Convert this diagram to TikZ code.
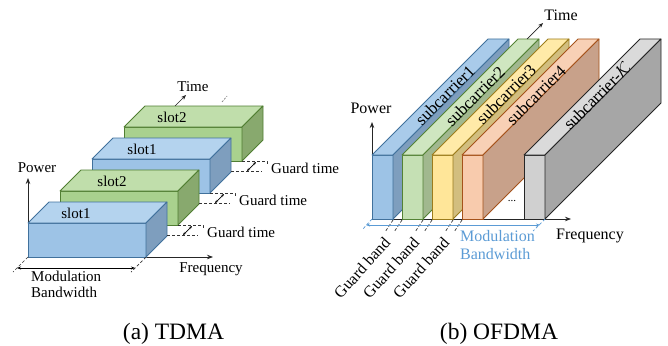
\documentclass[tikz,border=0pt]{standalone}
\usepackage{fontspec}
\setmainfont{Liberation Serif}
\usetikzlibrary{arrows.meta}

% palettes: front / top / side / outline
\definecolor{tbF}{HTML}{9DC3E6}\definecolor{tbT}{HTML}{B4D3EE}\definecolor{tbS}{HTML}{7E9EBE}\definecolor{tbL}{HTML}{41719C}
\definecolor{tgF}{HTML}{A9D18E}\definecolor{tgT}{HTML}{C0DEAB}\definecolor{tgS}{HTML}{88A96E}\definecolor{tgL}{HTML}{507E32}
\definecolor{obF}{HTML}{9DC3E6}\definecolor{obT}{HTML}{A9CBEA}\definecolor{obS}{HTML}{7E9EBE}\definecolor{obL}{HTML}{41719C}
\definecolor{ogF}{HTML}{C5E0B4}\definecolor{ogT}{HTML}{CFE6C0}\definecolor{ogS}{HTML}{A1B88F}\definecolor{ogL}{HTML}{548235}
\definecolor{oyF}{HTML}{FFE699}\definecolor{oyT}{HTML}{FFEAA8}\definecolor{oyS}{HTML}{D2BE7F}\definecolor{oyL}{HTML}{9C7C1C}
\definecolor{ooF}{HTML}{F8CBAD}\definecolor{ooT}{HTML}{F8D0B5}\definecolor{ooS}{HTML}{C8A18A}\definecolor{ooL}{HTML}{A5521A}
\definecolor{okF}{HTML}{D0D0D0}\definecolor{okT}{HTML}{DADADA}\definecolor{okS}{HTML}{A6A6A6}\definecolor{okL}{HTML}{262626}
\definecolor{bwBlue}{HTML}{5B9BD5}

\tikzset{
  lbl/.style={font=\fontsize{15}{15.5}\selectfont, inner sep=0pt},
  lblb/.style={font=\fontsize{16}{18}\selectfont, inner sep=0pt},
  lblc/.style={font=\fontsize{17}{18}\selectfont, inner sep=0pt},
  captext/.style={font=\fontsize{23.5}{25}\selectfont, inner sep=0pt},
  axis/.style={draw=black!85, line width=0.8pt, -{Stealth[length=6pt,width=4.5pt]}},
  gdash/.style={draw=black!80, dashed, dash pattern=on 3pt off 2pt, line width=0.7pt},
  garrow/.style={draw=black, line width=0.7pt, {Stealth[length=3pt,width=2.5pt]}-{Stealth[length=3pt,width=2.5pt]}},
  face/.style={line width=0.8pt, line join=round},
  cfront/.style={face, draw=#1L, fill=#1F},
  ctop/.style={face, draw=#1L, fill=#1T},
  cside/.style={face, draw=#1L, fill=#1S},
}

% cuboid: front top-left (x,y), width, height, depth, palette
\newcommand\cuboid[6]{%
  \filldraw[cfront=#6] (#1,#2) rectangle ({#1+#3},{#2+#4});
  \filldraw[ctop=#6] (#1,#2) -- ({#1+#3},#2) -- ({#1+#3+#5},{#2-#5}) -- ({#1+#5},{#2-#5}) -- cycle;
  \filldraw[cside=#6] ({#1+#3},#2) -- ({#1+#3+#5},{#2-#5}) -- ({#1+#3+#5},{#2+#4-#5}) -- ({#1+#3},{#2+#4}) -- cycle;
}

% guard-time marker below the front-bottom-right corner (cx,cy) of a slot
\newcommand\guardmark[3]{%
  \draw[gdash] (#1,#2) -- ({#1+25},#2) -- ({#1+25},{#2+3});
  \draw[gdash] ({#1-11},{#2+10}) -- ({#1+20},{#2+10});
  \draw[garrow] ({#1+5},{#2+10}) -- ({#1+14},{#2+1});
  \node[lbl, anchor=west] (#3) at ({#1+29},{#2+7}) {Guard time};
}

\begin{document}
\begin{tikzpicture}[x=1pt,y=-1pt]
\useasboundingbox (0,0) rectangle (668,345);

% ---------------- TDMA ----------------
\coordinate (tO) at (28,257);
\coordinate (tP) at (28,178);
\coordinate (tF) at (213,257);
\draw[axis] (tO) -- (tP);
\draw[axis] (tO) -- (tF);

\cuboid{124}{127}{118}{34}{21}{tg}
\cuboid{92}{159}{118}{34}{21}{tb}
\cuboid{60}{191}{118}{34}{21}{tg}
\cuboid{28}{223}{118}{34}{21}{tb}

\node[lbl] (s4) at (172,117) {slot2};
\node[lbl] (s3) at (142,149) {slot1};
\node[lbl] (s2) at (112,181) {slot2};
\node[lbl] (s1) at (76,213) {slot1};

\guardmark{178}{225}{g1}
\guardmark{210}{193}{g2}
\guardmark{242}{161}{g3}

% time direction
\coordinate (tT0) at (175,106);
\coordinate (tT1) at (186,95);
\draw[axis, line width=0.7pt, -{Stealth[length=5pt,width=4pt]}] (tT0) -- (tT1);
\node[lbl] (tTime) at (193,87) {Time};
\draw[gdash, draw=black!50, dash pattern=on 2pt off 1.5pt] (222,102) -- (227,96);

\node[lbl] (tPow) at (37,168) {Power};
\node[lbl] (tFreq) at (211,269) {Frequency};

% modulation bandwidth
\coordinate (tb1) at (13,272);
\coordinate (tb2) at (131,272);
\draw[gdash] (tO) -- (tb1);
\draw[gdash] (146,257) -- (tb2);
\draw[garrow, {Stealth[length=4pt,width=3pt]}-{Stealth[length=4pt,width=3pt]}] (17,268) -- (135,268);
\node[lbl, anchor=north west, align=left] (tBW) at (31,271) {Modulation\\Bandwidth};

\node[captext] (capa) at (173.5,334) {(a) TDMA};

% ---------------- OFDMA ----------------
\coordinate (oO) at (372,219);
\coordinate (oP) at (372,122);
\coordinate (oF) at (571,219);
\draw[axis] (oO) -- (oP);
\draw[axis] (oO) -- (oF);

\cuboid{372}{155}{21}{64}{116}{ob}
\cuboid{402}{155}{21}{64}{116}{og}
\cuboid{432}{155}{21}{64}{116}{oy}
\cuboid{462}{155}{21}{64}{116}{oo}
\cuboid{524}{155}{21}{64}{116}{ok}

\node[lblc, rotate=45] (c1) at (445,95) {subcarrier1};
\node[lblc, rotate=45] (c2) at (475,96) {subcarrier2};
\node[lblc, rotate=45] (c3) at (506,94) {subcarrier3};
\node[lblc, rotate=45] (c4) at (536,95) {subcarrier4};
\node[lblc, rotate=45] (cK) at (597,96) {subcarrier-$\mathcal{K}$};

\node[inner sep=0pt, font=\fontsize{11}{12}\selectfont] (dots) at (512,201) {...};

% time direction
\coordinate (oT0) at (527,39);
\coordinate (oT1) at (543,23);
\draw[axis, line width=0.7pt, -{Stealth[length=5pt,width=4pt]}] (oT0) -- (oT1);
\node[lblb] (oTime) at (561,15) {Time};

\node[lblb] (oPow) at (371,108) {Power};
\node[lblb] (oFreq) at (590,236) {Frequency};

% guard bands
\foreach \r/\l/\cx in {393/402/362, 423/432/391, 453/462/421}{
  \draw[gdash] (\r,220) -- ++(-8,12);
  \draw[gdash] (\l,220) -- ++(-8,12);
  \node[lblb, rotate=48] at (\cx,268) {Guard band};
}

% modulation bandwidth
\coordinate (ob1) at (362,230);
\coordinate (ob2) at (533,231);
\draw[gdash, draw=bwBlue] (oO) -- (ob1);
\draw[gdash, draw=bwBlue] (545,219) -- (ob2);
\draw[garrow, draw=bwBlue, {Stealth[length=4pt,width=3pt]}-{Stealth[length=4pt,width=3pt]}] (366,225) -- (540,225);
\node[lblb, anchor=north west, align=left, text=bwBlue] (oBW) at (460,230) {Modulation\\Bandwidth};

\node[captext] (capb) at (499,334) {(b) OFDMA};
\end{tikzpicture}
\end{document}
